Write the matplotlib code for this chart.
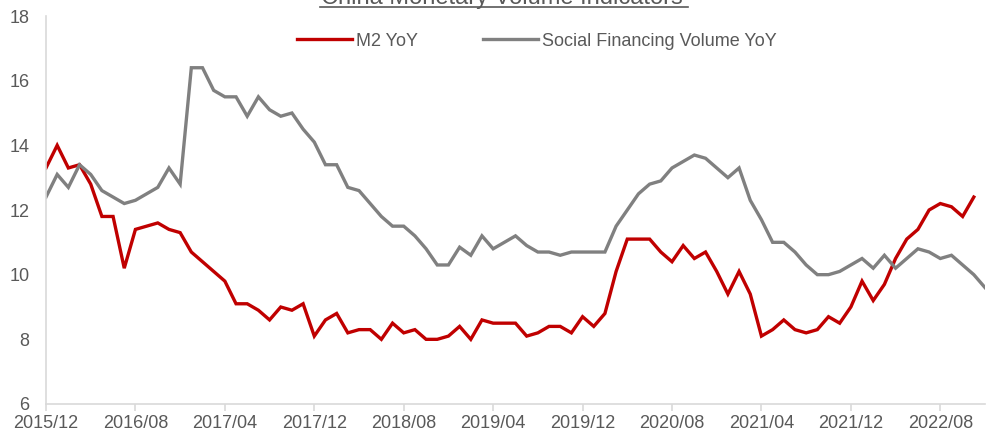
import matplotlib
matplotlib.use("Agg")
import matplotlib.pyplot as plt

plt.rcParams['font.family'] = ['Liberation Sans', 'DejaVu Sans']

start_year, start_month = 2015, 12
m2_yoy = [13.3,
          14.0, 13.3, 13.4, 12.8, 11.8, 11.8, 10.2, 11.4, 11.5, 11.6, 11.4, 11.3,
          10.7, 10.4, 10.1, 9.8, 9.1, 9.1, 8.9, 8.6, 9.0, 8.9, 9.1, 8.1,
          8.6, 8.8, 8.2, 8.3, 8.3, 8.0, 8.5, 8.2, 8.3, 8.0, 8.0, 8.1,
          8.4, 8.0, 8.6, 8.5, 8.5, 8.5, 8.1, 8.2, 8.4, 8.4, 8.2, 8.7,
          8.4, 8.8, 10.1, 11.1, 11.1, 11.1, 10.7, 10.4, 10.9, 10.5, 10.7, 10.1,
          9.4, 10.1, 9.4, 8.1, 8.3, 8.6, 8.3, 8.2, 8.3, 8.7, 8.5, 9.0,
          9.8, 9.2, 9.7, 10.5, 11.1, 11.4, 12.0, 12.2, 12.1, 11.8, 12.4]
sf_yoy = [12.4,
          13.1, 12.7, 13.4, 13.1, 12.6, 12.4, 12.2, 12.3, 12.5, 12.7, 13.3, 12.8,
          16.4, 16.4, 15.7, 15.5, 15.5, 14.9, 15.5, 15.1, 14.9, 15.0, 14.5, 14.1,
          13.4, 13.4, 12.7, 12.6, 12.2, 11.8, 11.5, 11.5, 11.2, 10.8, 10.3, 10.3,
          10.85, 10.6, 11.2, 10.8, 11.0, 11.2, 10.9, 10.7, 10.7, 10.6, 10.7, 10.7,
          10.7, 10.7, 11.5, 12.0, 12.5, 12.8, 12.9, 13.3, 13.5, 13.7, 13.6, 13.3,
          13.0, 13.3, 12.3, 11.7, 11.0, 11.0, 10.7, 10.3, 10.0, 10.0, 10.1, 10.3,
          10.5, 10.2, 10.6, 10.2, 10.5, 10.8, 10.7, 10.5, 10.6, 10.3, 10.0, 9.6]

def month_label(i):
    m = start_month - 1 + i
    return f"{start_year + m // 12}/{m % 12 + 1:02d}"

n = len(sf_yoy)
x_sf = list(range(n))
x_m2 = list(range(len(m2_yoy)))
tick_pos = list(range(0, n, 8))
tick_labels = [month_label(i) for i in tick_pos]

text_color = '#595959'
axis_color = '#d9d9d9'
W, H = 989, 434

fig = plt.figure(figsize=(W / 100, H / 100), dpi=100)
ax = fig.add_axes([46/W, 1-404/H, (985-46)/W, (404-16)/H])

ax.plot(x_m2, m2_yoy, color='#C00000', lw=2.4, label='M2 YoY', solid_joinstyle='miter')
ax.plot(x_sf, sf_yoy, color='#808080', lw=2.4, label='Social Financing Volume YoY', solid_joinstyle='miter')

ax.set_xlim(0, n - 1)
ax.set_ylim(6, 18)
ax.set_yticks([6, 8, 10, 12, 14, 16, 18])
ax.set_xticks(tick_pos)
ax.set_xticklabels(tick_labels)

for s in ['top', 'right']:
    ax.spines[s].set_visible(False)
for s in ['left', 'bottom']:
    ax.spines[s].set_color(axis_color)
    ax.spines[s].set_linewidth(1.2)

ax.tick_params(axis='x', colors=axis_color, length=5, width=1.2, direction='out',
               labelcolor=text_color, labelsize=13, pad=3)
ax.tick_params(axis='y', length=0, labelcolor=text_color, labelsize=13, pad=12)

leg = ax.legend(loc='center left', bbox_to_anchor=(297/W, 1-41/H), bbox_transform=fig.transFigure,
                ncol=2, frameon=False, borderpad=0, borderaxespad=0,
                fontsize=13, handlelength=3.05, handletextpad=0.22, columnspacing=3.6,
                labelcolor=text_color)

fig.text(501.5/W, 1 - 4/H, 'China Monetary Volume Indicators', ha='center', va='baseline',
         fontsize=17, color=text_color)
fig.add_artist(plt.Line2D([320/W, 688/W], [1-7/H, 1-7/H], color=text_color, lw=1.2))

fig.savefig('out.png', dpi=100)
